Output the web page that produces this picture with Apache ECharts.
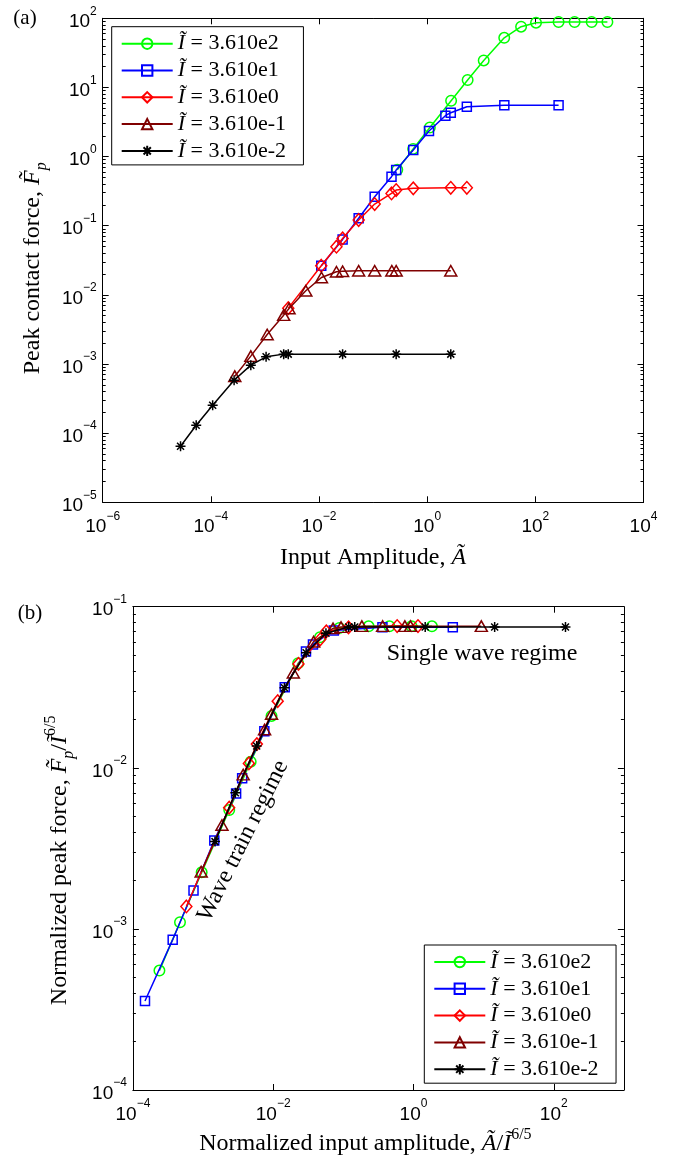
<!DOCTYPE html>
<html>
<head>
<meta charset="utf-8">
<script src="https://cdn.jsdelivr.net/npm/echarts@6/dist/echarts.min.js"></script>
<style>
  html, body { margin: 0; padding: 0; background: #fff; }
  #chart { width: 678px; height: 1161px; }
</style>
</head>
<body>
<div id="chart"></div>
<script>
// Impedance ratios (legend order) and their labels
const impedances = [3.610e2, 3.610e1, 3.610e0, 3.610e-1, 3.610e-2];
const impedanceLabels = ['3.610e2', '3.610e1', '3.610e0', '3.610e-1', '3.610e-2'];

// Input amplitude / peak contact force, one pair per impedance ratio
const amp361 = [0.28, 0.55, 1.12, 2.77, 5.6, 11.1, 26.6, 54.5, 103, 269, 532, 1100, 2150];
const force361 = [0.646, 1.29, 2.63, 6.41, 12.8, 24.6, 52.2, 75.7, 86.5, 88.5, 88.5, 88.5, 88.5];

const amp36 = [0.011, 0.0273, 0.0541, 0.107, 0.219, 0.267, 0.553, 1.08, 2.17, 2.73, 5.41, 26.7, 269];
const force36 = [0.0264, 0.0634, 0.128, 0.262, 0.512, 0.638, 1.245, 2.34, 3.90, 4.31, 5.27, 5.51, 5.51];

const amp3 = [0.0027, 0.011, 0.021, 0.0273, 0.0541, 0.107, 0.219, 0.267, 0.553, 2.73, 5.41];
const force3 = [0.00643, 0.0264, 0.0497, 0.0655, 0.121, 0.206, 0.293, 0.328, 0.347, 0.354, 0.354];

const amp036 = [2.77e-4, 5.48e-4, 1.10e-3, 2.22e-3, 2.79e-3, 5.70e-3, 0.0111, 0.0210, 0.0273, 0.0541, 0.107, 0.222, 0.267, 2.73];
const force036 = [6.67e-4, 1.30e-3, 2.67e-3, 5.09e-3, 6.35e-3, 0.01146, 0.01786, 0.0216, 0.0220, 0.0223, 0.0223, 0.0223, 0.0223, 0.0223];

const amp0036 = [2.75e-5, 5.36e-5, 1.08e-4, 2.69e-4, 5.48e-4, 1.05e-3, 2.22e-3, 2.70e-3, 0.0273, 0.267, 2.73];
const force0036 = [6.47e-5, 1.30e-4, 2.54e-4, 5.83e-4, 9.62e-4, 1.27e-3, 1.39e-3, 1.39e-3, 1.39e-3, 1.39e-3, 1.39e-3];

const amps = [amp361, amp36, amp3, amp036, amp0036];
const forces = [force361, force36, force3, force036, force0036];

// Axis ticks
const xTicksA = [1e-6, 1e-4, 1e-2, 1e0, 1e2, 1e4];
const yTicksA = [1e-5, 1e-4, 1e-3, 1e-2, 1e-1, 1e0, 1e1, 1e2];
const xTicksB = [1e-4, 1e-2, 1e0, 1e2];
const yTicksB = [1e-4, 1e-3, 1e-2, 1e-1];

const minorTicks = (lo, hi) => {
  const out = [];
  for (let e = lo; e < hi; e++) {
    for (let m = 2; m <= 9; m++) out.push(m * Math.pow(10, e));
  }
  return out;
};

const SERIF = '"Liberation Serif", "Times New Roman", serif';
const SANS = '"Liberation Sans", Arial, sans-serif';

const styles = [
  { color: '#00ff00', symbol: 'circle', size: 10.5 },
  { color: '#0000ff', symbol: 'rect', size: 9 },
  { color: '#ff0000', symbol: 'diamond', size: [11, 12.5] },
  { color: '#800000', symbol: 'triangle', size: [12, 10.5] },
  { color: '#000000', symbol: 'path://M0,-5L0,5M-5,0L5,0M-3.5,-3.5L3.5,3.5M-3.5,3.5L3.5,-3.5', size: 10 },
];

const powLabel = (v) => {
  const e = Math.round(Math.log10(v));
  return '{b|10}{s|' + (e < 0 ? '\u2212' + (-e) : e) + '}';
};

const tickRich = {
  b: { fontFamily: SANS, fontSize: 19, color: '#000', verticalAlign: 'bottom' },
  s: { fontFamily: SANS, fontSize: 12, color: '#000', verticalAlign: 'top' },
};

const nameRich = {
  it: { fontFamily: SERIF, fontSize: 24, fontStyle: 'italic', color: '#000' },
  sup: { fontFamily: SERIF, fontSize: 16, color: '#000', verticalAlign: 'top' },
  sub: { fontFamily: SERIF, fontSize: 16, fontStyle: 'italic', color: '#000', verticalAlign: 'bottom' },
};

const logAxis = (grid, position, min, max, ticks, opts = {}) => ({
  type: 'log',
  logBase: 10,
  gridIndex: grid,
  position: position,
  min: min,
  max: max,
  axisLine: { show: opts.line !== false, onZero: false, lineStyle: { color: '#000', width: 1 } },
  axisTick: {
    show: true,
    inside: true,
    length: opts.tickLen || 6,
    customValues: ticks,
    lineStyle: { color: '#000', width: 1 },
  },
  axisLabel: opts.labels ? {
    show: true,
    customValues: ticks,
    formatter: powLabel,
    margin: opts.margin || 7,
    lineHeight: 26,
    rich: tickRich,
  } : { show: false },
  splitLine: { show: false },
  minorTick: { show: false },
  name: opts.name || '',
  nameLocation: 'middle',
  nameGap: opts.nameGap || 30,
  nameRotate: opts.nameRotate,
  nameMoveOverlap: false,
  nameTextStyle: {
    fontFamily: SERIF, fontSize: 24, lineHeight: 34, color: '#000',
    padding: opts.namePadding || 0, rich: nameRich,
  },
});

const xAxis = [
  logAxis(0, 'bottom', 1e-6, 1e4, xTicksA, { labels: true, margin: 8, name: 'Input Amplitude, {it|\u00C3}', nameGap: 38 }),
  logAxis(0, 'top', 1e-6, 1e4, xTicksA),
  logAxis(1, 'bottom', 1e-4, 1e3, xTicksB, {
    labels: true, margin: 8, nameGap: 37, namePadding: [0, 26, 0, 0],
    name: 'Normalized input amplitude, {it|\u00C3}/{it|\u0128}{sup|6/5}',
  }),
  logAxis(1, 'top', 1e-4, 1e3, xTicksB),
];

const yAxis = [
  logAxis(0, 'left', 1e-5, 1e2, yTicksA, {
    labels: true, margin: 6, nameGap: 53, nameRotate: 90, namePadding: [0, 16, 0, 0],
    name: 'Peak contact force, {it|F\u0303}{sub|p}',
  }),
  logAxis(0, 'right', 1e-5, 1e2, yTicksA),
  logAxis(0, 'left', 1e-5, 1e2, minorTicks(-5, 2), { line: false, tickLen: 3 }),
  logAxis(0, 'right', 1e-5, 1e2, minorTicks(-5, 2), { line: false, tickLen: 3 }),
  logAxis(1, 'left', 1e-4, 1e-1, yTicksB, {
    labels: true, margin: 6, nameGap: 56, nameRotate: 90, namePadding: [0, 24, 0, 0],
    name: 'Normalized peak force, {it|F\u0303}{sub|p}/{it|\u0128}{sup|6/5}',
  }),
  logAxis(1, 'right', 1e-4, 1e-1, yTicksB),
  logAxis(1, 'left', 1e-4, 1e-1, minorTicks(-4, -1), { line: false, tickLen: 3 }),
  logAxis(1, 'right', 1e-4, 1e-1, minorTicks(-4, -1), { line: false, tickLen: 3 }),
];

const makeSeries = (k, xs, ys, xAxisIndex, yAxisIndex) => {
  const st = styles[k];
  return {
    name: impedanceLabels[k],
    type: 'line',
    xAxisIndex: xAxisIndex,
    yAxisIndex: yAxisIndex,
    data: xs.map((x, i) => [x, ys[i]]),
    symbol: st.symbol,
    symbolSize: st.size,
    showAllSymbol: true,
    lineStyle: { color: st.color, width: 1.5 },
    itemStyle: { color: 'rgba(0,0,0,0)', borderColor: st.color, borderWidth: 1.5 },
    emphasis: { disabled: true },
    z: 2 + k,
  };
};

const series = [];
impedances.forEach((imp, k) => {
  series.push(makeSeries(k, amps[k], forces[k], 0, 0));
});
impedances.forEach((imp, k) => {
  // normalized by I^(6/5)
  const scale = Math.pow(imp, 1.2);
  series.push(makeSeries(k, amps[k].map(v => v / scale), forces[k].map(v => v / scale), 2, 4));
});

const legendBase = (left, top) => ({
  data: impedanceLabels,
  left: left,
  top: top,
  orient: 'vertical',
  selectedMode: false,
  backgroundColor: '#fff',
  borderColor: '#000',
  borderWidth: 1,
  padding: [6, 4, 3, 9],
  itemWidth: 51,
  itemHeight: 13,
  itemGap: 4.8,
  formatter: (name) => '{i|\u0128} = {n|' + name + '}',
  textStyle: {
    fontFamily: SERIF,
    fontSize: 22,
    lineHeight: 20.5,
    color: '#000',
    rich: {
      i: { fontFamily: SERIF, fontSize: 22, fontStyle: 'italic', color: '#000' },
      n: { fontFamily: SERIF, fontSize: 22, color: '#000', width: 91 },
    },
  },
});

const textMark = (x, y, text, size, rotation) => ({
  type: 'text',
  x: x,
  y: y,
  rotation: rotation || 0,
  style: {
    text: text,
    fontFamily: SERIF,
    fontSize: size,
    fontStyle: 'normal',
    fill: '#000',
    align: 'center',
    verticalAlign: 'middle',
  },
});

const chart = echarts.init(document.getElementById('chart'), null, { renderer: 'canvas' });
chart.setOption({
  animation: false,
  backgroundColor: '#fff',
  grid: [
    { left: 102.7, top: 18.3, width: 540.8, height: 484, outerBoundsMode: 'none' },
    { left: 132.9, top: 606.7, width: 491, height: 483.3, outerBoundsMode: 'none' },
  ],
  xAxis: xAxis,
  yAxis: yAxis,
  legend: [legendBase(111.7, 26.7), legendBase(424.3, 945)],
  series: series,
  graphic: [
    textMark(25, 18, '(a)', 21),
    textMark(30, 613, '(b)', 21),
    textMark(482, 654, 'Single wave regime', 24),
    textMark(243, 841, 'Wave train regime', 24, 63.5 * Math.PI / 180),
  ],
});
</script>
</body>
</html>
